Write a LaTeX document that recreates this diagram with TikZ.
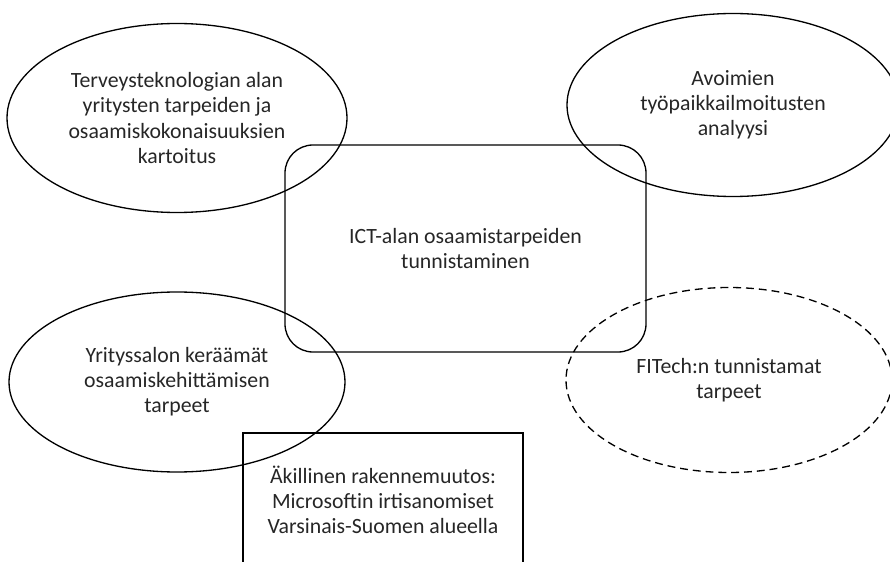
\documentclass[tikz,border=0pt]{standalone}
\usepackage{fontspec}
\setmainfont{Carlito}
\usetikzlibrary{shapes.geometric}

\begin{document}
\begin{tikzpicture}[
	kupla/.style={draw, ellipse, line width=0.75pt, inner sep=0pt, align=center, text=black!85},
	laatikko/.style={draw, rectangle, align=center, text=black!85},
	font=\fontsize{12.4}{14.3}\selectfont]
	\useasboundingbox (0,0) rectangle (17.8,11.22);
	% ellipsit
	\node[kupla, minimum width=6.8cm, minimum height=3.78cm] (terveys) at (3.54,8.86) {Terveysteknologian alan\\yritysten tarpeiden ja\\osaamiskokonaisuuksien\\kartoitus};
	\node[kupla, minimum width=6.64cm, minimum height=3.66cm] (avoimet) at (14.66,9.12) {Avoimien\\työpaikkailmoitusten\\analyysi};
	\node[kupla, minimum width=6.72cm, minimum height=3.6cm] (yrityssalo) at (3.54,3.58) {Yrityssalon keräämät\\osaamiskehittämisen\\tarpeet};
	\node[kupla, dash pattern=on 4.5pt off 2.8pt, minimum width=6.52cm, minimum height=3.7cm] (fitech) at (14.58,3.62) {FITech:n tunnistamat\\tarpeet};
	% laatikot
	\node[laatikko, line width=0.75pt, rounded corners=0.56cm, minimum width=7.22cm, minimum height=4.14cm] (ict) at (9.31,6.25) {ICT-alan osaamistarpeiden\\tunnistaminen};
	\node[laatikko, line width=1.1pt, minimum width=5.6cm, minimum height=2.68cm] (rakenne) at (7.66,1.22) {Äkillinen rakennemuutos:\\Microsoftin irtisanomiset\\Varsinais-Suomen alueella};
\end{tikzpicture}
\end{document}
